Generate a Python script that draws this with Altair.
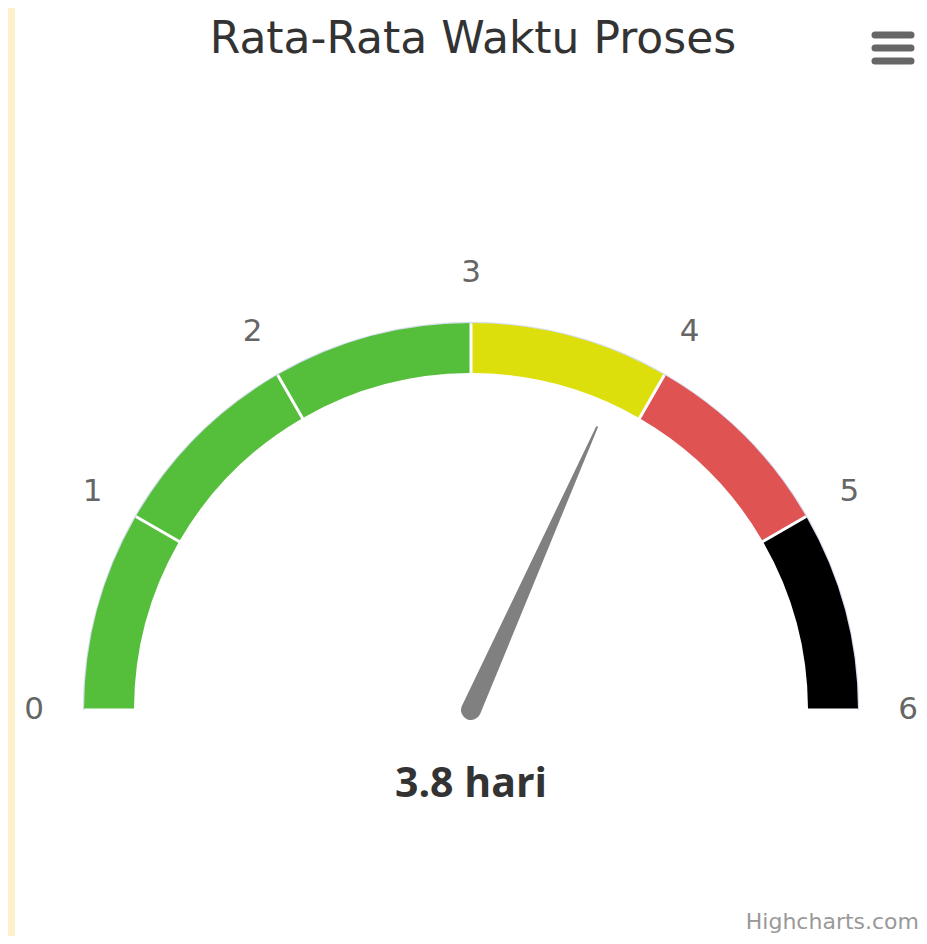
import math
import altair as alt
import pandas as pd

# ---- data ----
BAND_FROM = [0, 1, 2, 3, 4, 5]
BAND_TO = [1, 2, 3, 4, 5, 6]
BAND_COLOR = ["#55BF3B", "#55BF3B", "#55BF3B", "#DDDF0D", "#DF5353", "#000000"]
TICKS = [0, 1, 2, 3, 4, 5, 6]
GAUGE_MIN, GAUGE_MAX = 0, 6
VALUE = 3.8
UNIT = "hari"
TITLE = "Rata-Rata Waktu Proses"
CREDIT = "Highcharts.com"
NEEDLE_R = [0.0, 0.8]   # fraction of outer radius
NEEDLE_W = [20, 2]      # width along needle

# ---- layout ----
W, H = 911, 928
CX, CY = 463, 702
R_OUT, R_IN = 387, 337
R_LABEL = 437

theta_scale = alt.Scale(domain=[GAUGE_MIN, GAUGE_MAX], range=[-math.pi / 2, math.pi / 2])

bands = pd.DataFrame({"start": BAND_FROM, "end": BAND_TO, "color": BAND_COLOR})
ticks = pd.DataFrame({"v": TICKS, "label": [str(t) for t in TICKS]})
needle = pd.DataFrame({"v": [VALUE] * len(NEEDLE_R), "rf": NEEDLE_R, "w": NEEDLE_W, "i": list(range(len(NEEDLE_R)))})
value_df = pd.DataFrame({"v": [VALUE], "unit": [UNIT]})

strip = alt.Chart(pd.DataFrame({"a": [0]})).mark_rect(color="#FFF0CC").encode(
    x=alt.value(0), x2=alt.value(7), y=alt.value(0), y2=alt.value(H)
)

border = alt.Chart(pd.DataFrame({"start": [GAUGE_MIN], "end": [GAUGE_MAX]})).mark_arc(
    innerRadius=R_OUT - 0.5, outerRadius=R_OUT + 1.2, color="#CCD6EB", opacity=0.8
).encode(
    theta=alt.Theta("start:Q", scale=theta_scale),
    theta2="end:Q",
    x=alt.value(CX), y=alt.value(CY),
)

band_layer = alt.Chart(bands).mark_arc(
    innerRadius=R_IN, outerRadius=R_OUT, padAngle=3 / math.hypot(R_IN, R_OUT)
).encode(
    theta=alt.Theta("start:Q", scale=theta_scale),
    theta2="end:Q",
    color=alt.Color("color:N", scale=None),
    x=alt.value(CX), y=alt.value(CY),
)

tick_labels = alt.Chart(ticks).mark_text(
    font="DejaVu Sans", fontSize=31, color="#666666", align="center", baseline="middle"
).encode(
    theta=alt.Theta("v:Q", scale=theta_scale),
    radius=alt.value(R_LABEL),
    text="label:N",
    x=alt.value(CX), y=alt.value(CY),
)

needle_layer = alt.Chart(needle).transform_calculate(
    ang=f"(datum.v - {GAUGE_MIN}) / ({GAUGE_MAX} - {GAUGE_MIN}) * PI - PI / 2",
    px=f"{CX} + datum.rf * {R_OUT} * sin(datum.ang)",
    py=f"{CY} - datum.rf * {R_OUT} * cos(datum.ang)",
).mark_trail(color="#808080").encode(
    x=alt.X("px:Q", scale=None, axis=None),
    y=alt.Y("py:Q", scale=None, axis=None),
    size=alt.Size("w:Q", scale=None, legend=None),
    order="i:Q",
)

value_label = alt.Chart(value_df).transform_calculate(
    txt="datum.v + ' ' + datum.unit"
).mark_text(
    font="Open Sans", fontSize=41, fontWeight="bold", color="#333333", align="center", baseline="middle"
).encode(text="txt:N", x=alt.value(CX), y=alt.value(777))

title = alt.Chart(pd.DataFrame({"t": [TITLE]})).mark_text(
    font="DejaVu Sans", fontSize=44, color="#333333", align="center", baseline="middle"
).encode(text="t:N", x=alt.value(465), y=alt.value(32))

menu = [
    alt.Chart(pd.DataFrame({"a": [0]})).mark_rule(color="#666666", strokeWidth=7, strokeCap="round").encode(
        x=alt.value(867), x2=alt.value(903), y=alt.value(yy), y2=alt.value(yy)
    )
    for yy in (27, 40, 53)
]

credit = alt.Chart(pd.DataFrame({"t": [CREDIT]})).mark_text(
    font="DejaVu Sans", fontSize=22, color="#999999", align="right", baseline="middle"
).encode(text="t:N", x=alt.value(911), y=alt.value(914))

chart = alt.layer(
    strip, border, band_layer, tick_labels, needle_layer, value_label, title, *menu, credit
).properties(
    width=W, height=H, autosize=alt.AutoSizeParams(type="none"), padding=0, background="white"
).configure_view(stroke=None)

chart.save("out.html", embed_options={"renderer": "svg", "actions": False})
